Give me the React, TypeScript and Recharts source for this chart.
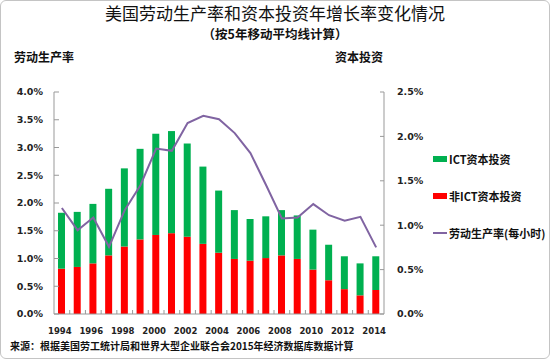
import { ComposedChart, Bar, Line, XAxis, YAxis } from 'recharts';

// 5-year moving averages, % per year
const years = ['1994', '1995', '1996', '1997', '1998', '1999', '2000', '2001', '2002', '2003', '2004',
  '2005', '2006', '2007', '2008', '2009', '2010', '2011', '2012', '2013', '2014'];
const nonIctCapital = [0.51, 0.53, 0.57, 0.66, 0.76, 0.84, 0.89, 0.91, 0.87, 0.79, 0.69,
  0.62, 0.60, 0.63, 0.66, 0.62, 0.50, 0.38, 0.28, 0.21, 0.27];
const ictCapital = [0.63, 0.62, 0.67, 0.75, 0.88, 1.02, 1.14, 1.15, 1.05, 0.87, 0.70,
  0.55, 0.47, 0.47, 0.51, 0.49, 0.45, 0.40, 0.37, 0.36, 0.38];
const laborProductivity = [1.91, 1.51, 1.74, 1.21, 1.87, 2.32, 2.98, 2.94, 3.44, 3.57, 3.51,
  3.26, 2.90, 2.32, 1.72, 1.74, 1.98, 1.78, 1.68, 1.75, 1.20];
const leftTicks = [0, 0.5, 1, 1.5, 2, 2.5, 3, 3.5, 4];
const rightTicks = [0, 0.5, 1, 1.5, 2, 2.5];

const GREEN = '#00b050';
const RED = '#ff0000';
const PURPLE = '#8064a2';
const AXIS = '#999999';
const NUM_FONT = '"DejaVu Sans", sans-serif';
const CJK_FONT = '"Noto Sans CJK SC", sans-serif';

const chartData = years.map((year, i) => ({
  year,
  nonIct: nonIctCapital[i],
  ict: ictCapital[i],
  labor: laborProductivity[i],
}));

const PLOT_LEFT = 54;
const PLOT_RIGHT = 384;
const BAND = (PLOT_RIGHT - PLOT_LEFT) / years.length;

const YearTick = (props: any) => {
  const { x, y, payload, index } = props;
  return (
    <g>
      {index < years.length - 1 && (
        <line x1={x + BAND / 2} x2={x + BAND / 2} y1={y} y2={y - 4} stroke={AXIS} />
      )}
      {index % 2 === 0 && (
        <text x={x - 2} y={y + 20} textAnchor="middle" fontSize={8.5} fontWeight="bold"
          fontFamily={NUM_FONT} fill="#222">
          {payload.value}
        </text>
      )}
    </g>
  );
};

const legendItems = [
  { label: 'ICT资本投资', color: GREEN, type: 'rect' },
  { label: '非ICT资本投资', color: RED, type: 'rect' },
  { label: '劳动生产率(每小时)', color: PURPLE, type: 'line' },
];

const textStyle = (extra: any) => ({
  position: 'absolute' as const,
  fontFamily: CJK_FONT,
  color: '#111',
  whiteSpace: 'nowrap' as const,
  ...extra,
});

export default function App() {
  return (
    <div style={{ position: 'relative', width: 550, height: 359, background: '#fff', overflow: 'hidden' }}>
      <style>{'body{margin:0}'}</style>
      <ComposedChart
        width={550}
        height={359}
        data={chartData}
        margin={{ top: 92, right: 121, bottom: 25, left: 0 }}
        barCategoryGap={0}
      >
        <XAxis
          dataKey="year"
          interval={0}
          tickLine={false}
          tickSize={0}
          tickMargin={0}
          tick={<YearTick />}
          axisLine={{ stroke: AXIS }}
          height={20}
        />
        <YAxis
          yAxisId="left"
          orientation="left"
          width={54}
          domain={[0, 4]}
          ticks={leftTicks}
          tickFormatter={(v: number) => `${v.toFixed(1)}%`}
          tickSize={-5}
          tickMargin={16}
          axisLine={{ stroke: AXIS }}
          tickLine={{ stroke: AXIS }}
          tick={{ fontSize: 9.5, fontWeight: 'bold', fontFamily: NUM_FONT, fill: '#222' }}
        />
        <YAxis
          yAxisId="right"
          orientation="right"
          width={45}
          domain={[0, 2.5]}
          ticks={rightTicks}
          tickFormatter={(v: number) => `${v.toFixed(1)}%`}
          tickSize={-4}
          tickMargin={17}
          axisLine={{ stroke: AXIS }}
          tickLine={{ stroke: AXIS }}
          tick={{ fontSize: 9.5, fontWeight: 'bold', fontFamily: NUM_FONT, fill: '#222' }}
        />
        <Bar yAxisId="right" dataKey="nonIct" stackId="cap" fill={RED} barSize={7}
          name="非ICT资本投资" isAnimationActive={false} />
        <Bar yAxisId="right" dataKey="ict" stackId="cap" fill={GREEN} barSize={7}
          name="ICT资本投资" isAnimationActive={false} />
        <Line yAxisId="left" type="linear" dataKey="labor" stroke={PURPLE} strokeWidth={2}
          dot={false} name="劳动生产率(每小时)" isAnimationActive={false} />
      </ComposedChart>
      <div style={{
        position: 'absolute', left: 0, top: 0, width: 548, height: 357,
        border: '1px solid #c4c4c4', borderRadius: 6, pointerEvents: 'none',
      }} />
      <div style={textStyle({ left: 0, width: 550, top: 3, textAlign: 'center', fontSize: 17, lineHeight: '20px' })}>
        美国劳动生产率和资本投资年增长率变化情况
      </div>
      <div style={textStyle({ left: 0, width: 550, top: 27, textAlign: 'center', fontSize: 12.5, fontWeight: 'bold', lineHeight: '14px' })}>
        （按5年移动平均线计算）
      </div>
      <div style={textStyle({ left: 14, top: 49, fontSize: 12, fontWeight: 'bold', lineHeight: '16px' })}>
        劳动生产率
      </div>
      <div style={textStyle({ left: 335, top: 49, fontSize: 12, fontWeight: 'bold', lineHeight: '16px' })}>
        资本投资
      </div>
      <div style={textStyle({ left: 10, top: 338, fontSize: 10, fontWeight: 'bold', lineHeight: '16px' })}>
        来源：根据美国劳工统计局和世界大型企业联合会2015年经济数据库数据计算
      </div>
      <div style={textStyle({ left: 433, top: 151, fontSize: 11, fontWeight: 'bold' })}>
        {legendItems.map(item => (
          <div key={item.label} style={{ display: 'flex', alignItems: 'center', height: 16, marginBottom: 21 }}>
            <div style={{
              width: 14,
              height: item.type === 'rect' ? 6 : 2,
              background: item.color,
              marginRight: 2,
            }} />
            <span>{item.label}</span>
          </div>
        ))}
      </div>
    </div>
  );
}
